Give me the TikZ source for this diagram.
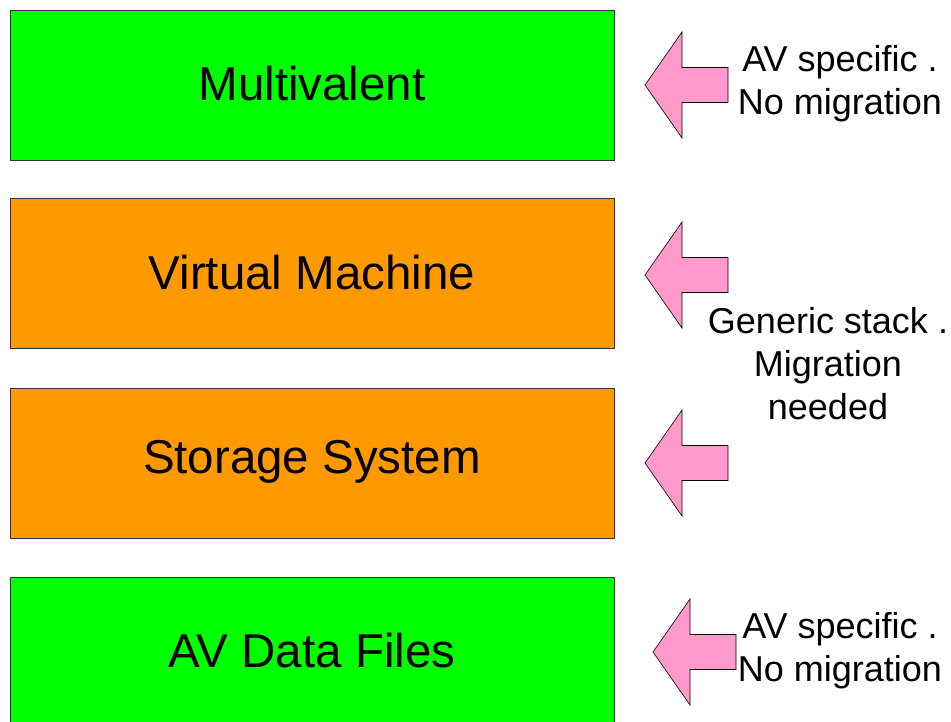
\documentclass[tikz,border=0pt]{standalone}
\usepackage{fontspec}
\setmainfont{Liberation Sans}
\definecolor{boxgreen}{HTML}{00FF00}
\definecolor{boxorange}{HTML}{FF9900}
\definecolor{arrowpink}{HTML}{FF99CC}
\begin{document}
\begin{tikzpicture}[x=1pt,y=-1pt,
  layer/.style={draw=black!80,line width=0.8pt,minimum width=604pt,minimum height=150pt,inner sep=0pt,anchor=north west},
  boxlabel/.style={inner sep=0pt,font=\fontsize{47.5}{52}\selectfont},
  sidetext/.style={align=center,inner sep=0pt,font=\fontsize{36}{43}\selectfont},
  arrowfill/.style={fill=arrowpink,draw=black,line width=0.6pt,line join=miter},
  leftarrow/.pic={\draw[arrowfill] (0,0) -- (37,-53) -- (37,-17.5) -- (83,-17.5) -- (83,17.5) -- (37,17.5) -- (37,53) -- cycle;}]
\clip (0,0) rectangle (951,722);
\fill[white] (0,0) rectangle (951,722);
\node[layer,fill=boxgreen] (multi) at (10,10) {};
\node[boxlabel] (multilabel) at (312,84) {Multivalent};
\node[layer,fill=boxorange] (vm) at (10,198) {};
\node[boxlabel] (vmlabel) at (312,273) {Virtual Machine};
\node[layer,fill=boxorange] (store) at (10,388) {};
\node[boxlabel] (storelabel) at (312,462) {Storage System};
\node[layer,fill=boxgreen,minimum height=170pt] (files) at (10,577) {};
\node[boxlabel] (fileslabel) at (312,651) {AV Data Files};
\pic (a1) at (645,85) {leftarrow};
\pic (a2) at (645,275) {leftarrow};
\pic (a3) at (645,463) {leftarrow};
\pic (a4) at (653,652) {leftarrow};
\node[sidetext] (t1) at (840,84) {AV specific .\\No migration};
\node[sidetext] (t2) at (828,364) {Generic stack .\\Migration\\needed};
\node[sidetext] (t4) at (840,651) {AV specific .\\No migration};
\end{tikzpicture}
\end{document}
